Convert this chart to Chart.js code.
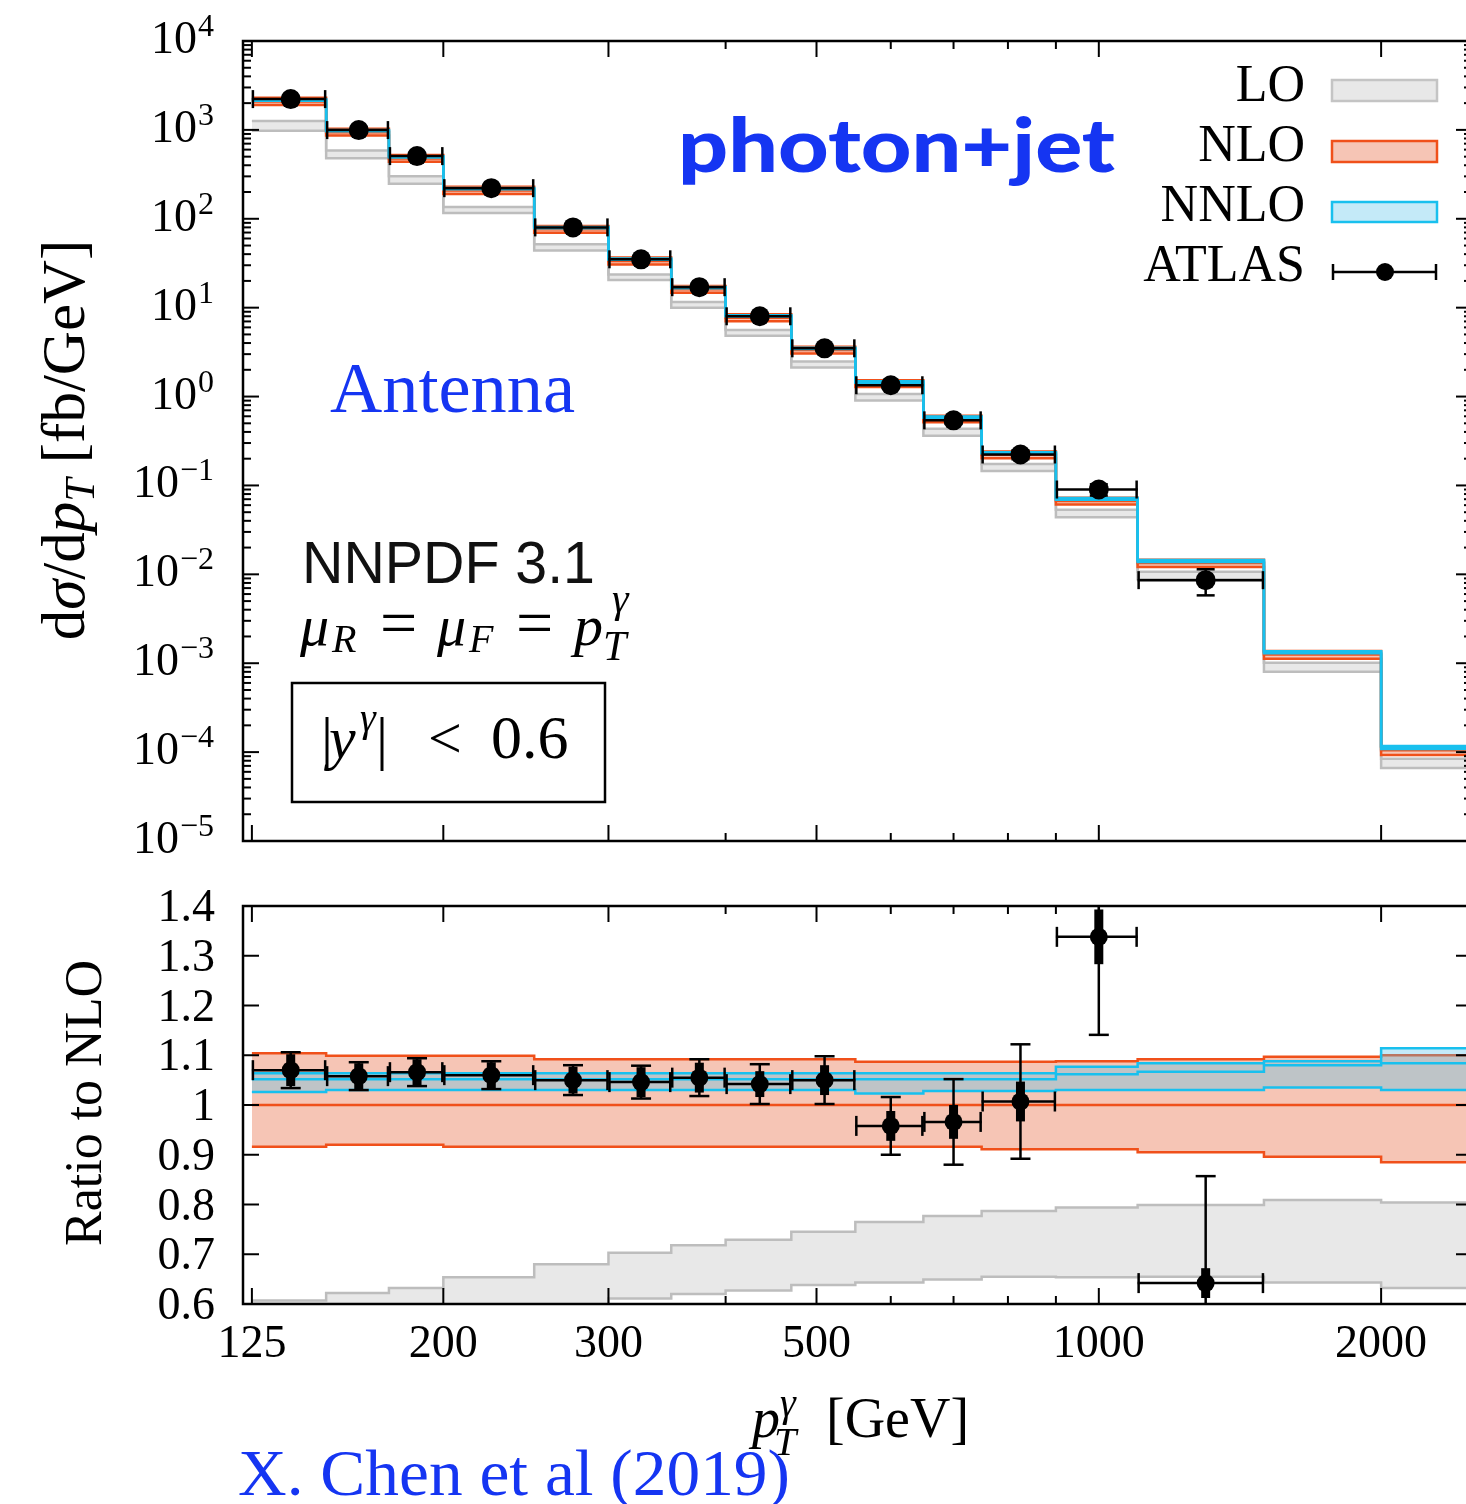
<!DOCTYPE html>
<html>
<head>
<meta charset="utf-8">
<title>photon+jet</title>
<script src="https://cdn.jsdelivr.net/npm/chart.js@4.4.1/dist/chart.umd.min.js"></script>
<style>
  html, body { margin:0; padding:0; background:#fff; overflow:hidden; }
  #page { position:relative; width:1466px; height:1504px; overflow:hidden; background:#fff; }
  canvas { position:absolute; left:0; }
  #top { top:0; }
  #bot { top:870px; }
  #ann { position:absolute; left:0; top:0; pointer-events:none; }
</style>
</head>
<body>
<div id="page">
  <canvas id="top" width="1500" height="870"></canvas>
  <canvas id="bot" width="1500" height="634"></canvas>
  <svg id="ann" width="1466" height="1504" xmlns="http://www.w3.org/2000/svg">
    <g font-family="'Liberation Serif','Times New Roman',serif" fill="#000">
      <!-- axis titles -->
      <text transform="translate(84,440) rotate(-90)" text-anchor="middle" font-size="61">d<tspan font-style="italic">σ</tspan>/d<tspan font-style="italic">p</tspan><tspan font-style="italic" font-size="42" dy="10">T</tspan><tspan dy="-10"> [fb/GeV]</tspan></text>
      <text transform="translate(101,1103) rotate(-90)" text-anchor="middle" font-size="52">Ratio to NLO</text>
      <text x="752" y="1437" font-size="56" font-style="italic">p</text>
      <text x="774" y="1455" font-size="40" font-style="italic">T</text>
      <text x="780" y="1416" font-size="40" font-style="italic">γ</text>
      <text x="826" y="1437" font-size="56">[GeV]</text>

      <!-- legend -->
      <text x="1305" y="101" text-anchor="end" font-size="52">LO</text>
      <text x="1305" y="161" text-anchor="end" font-size="52">NLO</text>
      <text x="1305" y="221" text-anchor="end" font-size="52">NNLO</text>
      <text x="1305" y="281" text-anchor="end" font-size="52">ATLAS</text>

      <!-- scale choice -->
      <text x="300" y="645" font-size="58" font-style="italic">μ</text>
      <text x="332" y="652" font-size="40" font-style="italic">R</text>
      <text x="380" y="645" font-size="66">=</text>
      <text x="437" y="645" font-size="58" font-style="italic">μ</text>
      <text x="469" y="652" font-size="40" font-style="italic">F</text>
      <text x="516" y="645" font-size="66">=</text>
      <text x="574" y="645" font-size="58" font-style="italic">p</text>
      <text x="603" y="660" font-size="42" font-style="italic">T</text>
      <text x="612" y="612" font-size="42" font-style="italic">γ</text>

      <!-- rapidity box -->
      <rect x="292" y="683" width="313" height="119" fill="none" stroke="#000" stroke-width="2.5"/>
      <text x="321" y="758" font-size="60">|</text>
      <text x="329" y="758" font-size="60" font-style="italic">y</text>
      <text x="360" y="731" font-size="40" font-style="italic">γ</text>
      <text x="376" y="758" font-size="60">|</text>
      <text x="428" y="758" font-size="60">&lt;</text>
      <text x="491" y="758" font-size="62">0.6</text>

      <text x="330" y="412" font-size="71" fill="#1535f2" textLength="245" lengthAdjust="spacingAndGlyphs">Antenna</text>
      <text x="238" y="1495" font-size="66" fill="#1535f2" textLength="552" lengthAdjust="spacingAndGlyphs">X. Chen et al (2019)</text>
    </g>
    <text x="302" y="583" font-family="'Liberation Sans',Arial,sans-serif" font-size="60" fill="#111" textLength="293" lengthAdjust="spacingAndGlyphs">NNPDF 3.1</text>
    <text x="678" y="172" font-family="Lato,'Open Sans',sans-serif" font-weight="900" font-size="74" fill="#1535f2" textLength="437" lengthAdjust="spacingAndGlyphs">photon+jet</text>

    <!-- legend samples -->
    <rect x="1332" y="80" width="105" height="21" fill="#e8e8e8" stroke="#c4c4c4" stroke-width="2.5"/>
    <rect x="1332" y="141" width="105" height="21" fill="#f6c5b5" stroke="#f0501a" stroke-width="2.5"/>
    <rect x="1332" y="202" width="105" height="20" fill="#c4eaf8" stroke="#18c0ee" stroke-width="2.5"/>
    <line x1="1332" y1="272" x2="1437" y2="272" stroke="#000" stroke-width="2.5"/>
    <line x1="1333" y1="264" x2="1333" y2="280" stroke="#000" stroke-width="2.5"/>
    <line x1="1436" y1="264" x2="1436" y2="280" stroke="#000" stroke-width="2.5"/>
    <circle cx="1385" cy="272" r="9" fill="#000"/>
  </svg>
</div>
<script>
// ---------------- data ----------------
const binEdges = [125,150,175,200,250,300,350,400,470,550,650,750,900,1100,1500,2000,2500];
const atlasPt  = [137.5,162.5,187.5,225,275,325,375,435,510,600,700,825,1000,1300];

// upper panel: d sigma / d pT [fb/GeV]
const atlasXsec    = [2220, 995, 507, 221, 80, 35, 17, 8.0, 3.49, 1.34, 0.54, 0.223, 0.090, 0.0086];
const atlasXsecErr = [75, 26, 13, 5.8, 2.3, 1.1, 0.6, 0.3, 0.16, 0.08, 0.048, 0.026, 0.013, 0.0028];
const nloXsec      = [2080, 940, 476, 208, 76, 33.5, 16.1, 7.7, 3.33, 1.40, 0.56, 0.222, 0.067, 0.0134, 0.00125, 0.000105];

// lower panel: ratio to NLO (per bin)
const nloRatioHi  = [1.104,1.099,1.099,1.099,1.092,1.092,1.092,1.092,1.092,1.087,1.087,1.087,1.088,1.092,1.097,1.100];
const nloRatioMid = [1,1,1,1,1,1,1,1,1,1,1,1,1,1,1,1];
const nloRatioLo  = [0.916,0.920,0.920,0.916,0.916,0.916,0.916,0.916,0.916,0.916,0.916,0.911,0.911,0.905,0.896,0.885];
const nnloRatioHi  = [1.064,1.064,1.064,1.064,1.064,1.064,1.064,1.064,1.064,1.064,1.064,1.064,1.077,1.084,1.088,1.114];
const nnloRatioMid = [1.052,1.052,1.052,1.052,1.052,1.052,1.052,1.052,1.052,1.052,1.052,1.052,1.062,1.067,1.080,1.084];
const nnloRatioLo  = [1.026,1.030,1.030,1.030,1.030,1.030,1.030,1.030,1.030,1.023,1.028,1.028,1.030,1.030,1.035,1.030];
const loRatioHi = [0.607,0.622,0.632,0.654,0.680,0.703,0.718,0.729,0.745,0.765,0.777,0.787,0.794,0.799,0.809,0.804];
const loRatioLo = [0.470,0.510,0.520,0.560,0.580,0.611,0.620,0.627,0.638,0.643,0.649,0.655,0.654,0.655,0.643,0.632];

const atlasRatio     = [1.070,1.058,1.066,1.060,1.050,1.046,1.055,1.042,1.050,0.958,0.966,1.007,1.338,0.642];
const atlasRatioTot  = [0.036,0.028,0.028,0.028,0.030,0.033,0.037,0.040,0.048,0.058,0.086,0.115,0.197,0.215];
const atlasRatioStat = [0.032,0.026,0.026,0.026,0.027,0.030,0.030,0.026,0.030,0.030,0.034,0.040,0.055,0.030];

// axes
const xTickValues = [125,200,300,500,1000,2000];
const xTickLabels = ['125','200','300','500','1000','2000'];
const xMinorTicks = [400,600,700,800,900];
const yDecadeExps = [4,3,2,1,0,-1,-2,-3,-4,-5];
const ratioTicks = [1.4,1.3,1.2,1.1,1.0,0.9,0.8,0.7,0.6];
const ratioTickLabels = ['1.4','1.3','1.2','1.1','1','0.9','0.8','0.7','0.6'];

// ---------------- helpers ----------------
const C_NLO = '#f0501a', C_NLO_FILL = '#f6c5b5';
const C_NNLO = '#18c0ee', C_NNLO_FILL = 'rgba(82,194,235,0.34)';
const C_LO = '#bdbdbd', C_LO_FILL = '#e8e8e8';
const SERIF = '"Liberation Serif","Times New Roman",serif';

function stepData(vals, scale) {
  return binEdges.map((e, i) => {
    const k = Math.min(i, vals.length - 1);
    return {x: e, y: scale ? scale[k] * vals[k] : vals[k]};
  });
}
function stepSet(data, color, width, fill, bg) {
  return {data, borderColor: color, borderWidth: width, stepped: true, pointRadius: 0,
          fill: fill === undefined ? false : fill, backgroundColor: bg || 'transparent',
          borderCapStyle: 'butt', borderJoinStyle: 'miter'};
}
function line(ctx, x1, y1, x2, y2) { ctx.beginPath(); ctx.moveTo(x1, y1); ctx.lineTo(x2, y2); ctx.stroke(); }

const frameTicks = {
  id: 'frameTicks',
  afterDatasetsDraw(chart, args, opts) {
    const {ctx, chartArea: a, scales: {x, y}} = chart;
    ctx.save();
    ctx.strokeStyle = '#000';
    ctx.lineWidth = 2;
    const MAJ = 16, MIN = 8;
    xTickValues.forEach(v => { const p = x.getPixelForValue(v);
      line(ctx, p, a.bottom, p, a.bottom - MAJ); line(ctx, p, a.top, p, a.top + MAJ); });
    xMinorTicks.forEach(v => { const p = x.getPixelForValue(v);
      line(ctx, p, a.bottom, p, a.bottom - MIN); line(ctx, p, a.top, p, a.top + MIN); });
    ctx.fillStyle = '#000';
    if (opts.panel === 'upper') {
      yDecadeExps.forEach(e => {
        const p = y.getPixelForValue(Math.pow(10, e));
        line(ctx, a.left, p, a.left + MAJ, p); line(ctx, a.right, p, a.right - MAJ, p);
        if (e < 4) for (let m = 2; m <= 9; m++) {
          const q = y.getPixelForValue(m * Math.pow(10, e));
          line(ctx, a.left, q, a.left + MIN, q); line(ctx, a.right, q, a.right - MIN, q);
        }
        const expTxt = e < 0 ? '\u2212' + (-e) : String(e);
        ctx.textAlign = 'right'; ctx.textBaseline = 'alphabetic';
        ctx.font = '32px ' + SERIF;
        const w = ctx.measureText(expTxt).width;
        ctx.fillText(expTxt, 214, p - 5);
        ctx.font = '46px ' + SERIF;
        ctx.fillText('10', 214 - w - 1, p + 12);
      });
    } else {
      ratioTicks.forEach((v, i) => {
        const p = y.getPixelForValue(v);
        line(ctx, a.left, p, a.left + MAJ, p); line(ctx, a.right, p, a.right - MAJ, p);
        ctx.textAlign = 'right'; ctx.textBaseline = 'alphabetic';
        ctx.font = '46px ' + SERIF;
        ctx.fillText(ratioTickLabels[i], 215, p + 15);
      });
      ctx.textAlign = 'center';
      ctx.font = '46px ' + SERIF;
      xTickValues.forEach((v, i) => ctx.fillText(xTickLabels[i], x.getPixelForValue(v), a.bottom + 53));
    }
    ctx.lineWidth = 2.5;
    ctx.strokeRect(a.left, a.top, a.right - a.left, a.bottom - a.top);
    ctx.restore();
  }
};

const errorBars = {
  id: 'errorBars',
  afterDatasetsDraw(chart, args, opts) {
    const {ctx, chartArea: a, scales: {x, y}} = chart;
    ctx.save();
    ctx.beginPath(); ctx.rect(a.left, a.top, a.right - a.left, a.bottom - a.top); ctx.clip();
    ctx.strokeStyle = '#000';
    const v = opts.values, tot = opts.tot, stat = opts.stat, cap = opts.cap;
    for (let i = 0; i < atlasPt.length; i++) {
      const px = x.getPixelForValue(atlasPt[i]);
      const xl = x.getPixelForValue(binEdges[i]), xr = x.getPixelForValue(binEdges[i + 1]);
      const py = y.getPixelForValue(v[i]);
      ctx.lineWidth = 2.5;
      line(ctx, xl, py, xr, py);
      line(ctx, xl + 1, py - cap, xl + 1, py + cap);
      line(ctx, xr - 1, py - cap, xr - 1, py + cap);
      const yt = y.getPixelForValue(v[i] + tot[i]), yb = y.getPixelForValue(v[i] - tot[i]);
      line(ctx, px, yt, px, yb);
      line(ctx, px - cap, yt, px + cap, yt);
      line(ctx, px - cap, yb, px + cap, yb);
      if (stat) {
        ctx.lineWidth = 9;
        line(ctx, px, y.getPixelForValue(v[i] + stat[i]), px, y.getPixelForValue(v[i] - stat[i]));
      }
    }
    ctx.restore();
  }
};

function atlasSet(vals, r) {
  return {data: atlasPt.map((p, i) => ({x: p, y: vals[i]})), showLine: false,
          pointRadius: r, pointBackgroundColor: '#000', pointBorderColor: '#000', pointBorderWidth: 0,
          borderColor: '#000', backgroundColor: '#000'};
}

// ---------------- upper panel ----------------
const upperSets = [
  atlasSet(atlasXsec, 10),
  stepSet(stepData(nloXsec, nnloRatioMid), C_NNLO, 2.5),
  stepSet(stepData(nloXsec, nnloRatioLo), C_NNLO, 2.5),
  stepSet(stepData(nloXsec, nnloRatioHi), C_NNLO, 2.5, 2, C_NNLO_FILL),
  stepSet(stepData(nloXsec, nloRatioMid), C_NLO, 2.5),
  stepSet(stepData(nloXsec, nloRatioLo), C_NLO, 2.5),
  stepSet(stepData(nloXsec, nloRatioHi), C_NLO, 2.5, 5, C_NLO_FILL),
  stepSet(stepData(nloXsec, loRatioLo), C_LO, 2.5),
  stepSet(stepData(nloXsec, loRatioHi), C_LO, 2.5, 7, C_LO_FILL)
];

const common = {
  responsive: false, animation: false, devicePixelRatio: 1,
  plugins: {legend: {display: false}, tooltip: {enabled: false}},
  elements: {line: {tension: 0}}
};

new Chart(document.getElementById('top'), {
  type: 'line',
  data: {datasets: upperSets},
  options: Object.assign({}, common, {
    layout: {padding: {left: 243, right: 28, top: 41, bottom: 29}},
    plugins: {legend: {display: false}, tooltip: {enabled: false},
              frameTicks: {panel: 'upper'},
              errorBars: {values: atlasXsec, tot: atlasXsecErr, stat: null, cap: 9}},
    scales: {
      x: {type: 'logarithmic', min: 122.3, max: 2500, display: false},
      y: {type: 'logarithmic', min: 1e-5, max: 1e4, display: false}
    }
  }),
  plugins: [frameTicks, errorBars]
});

// ---------------- lower panel ----------------
const lowerSets = [
  atlasSet(atlasRatio, 9),
  stepSet(stepData(nnloRatioMid), C_NNLO, 2.5),
  stepSet(stepData(nnloRatioLo), C_NNLO, 2.5),
  stepSet(stepData(nnloRatioHi), C_NNLO, 2.5, 2, C_NNLO_FILL),
  stepSet(stepData(nloRatioMid), C_NLO, 2.5),
  stepSet(stepData(nloRatioLo), C_NLO, 2.5),
  stepSet(stepData(nloRatioHi), C_NLO, 2.5, 5, C_NLO_FILL),
  stepSet(stepData(loRatioLo), C_LO, 2.5),
  stepSet(stepData(loRatioHi), C_LO, 2.5, 7, C_LO_FILL)
];

new Chart(document.getElementById('bot'), {
  type: 'line',
  data: {datasets: lowerSets},
  options: Object.assign({}, common, {
    layout: {padding: {left: 243, right: 28, top: 36, bottom: 200}},
    plugins: {legend: {display: false}, tooltip: {enabled: false},
              frameTicks: {panel: 'lower'},
              errorBars: {values: atlasRatio, tot: atlasRatioTot, stat: atlasRatioStat, cap: 10}},
    scales: {
      x: {type: 'logarithmic', min: 122.3, max: 2500, display: false},
      y: {type: 'linear', min: 0.6, max: 1.4, display: false}
    }
  }),
  plugins: [frameTicks, errorBars]
});
</script>
</body>
</html>
